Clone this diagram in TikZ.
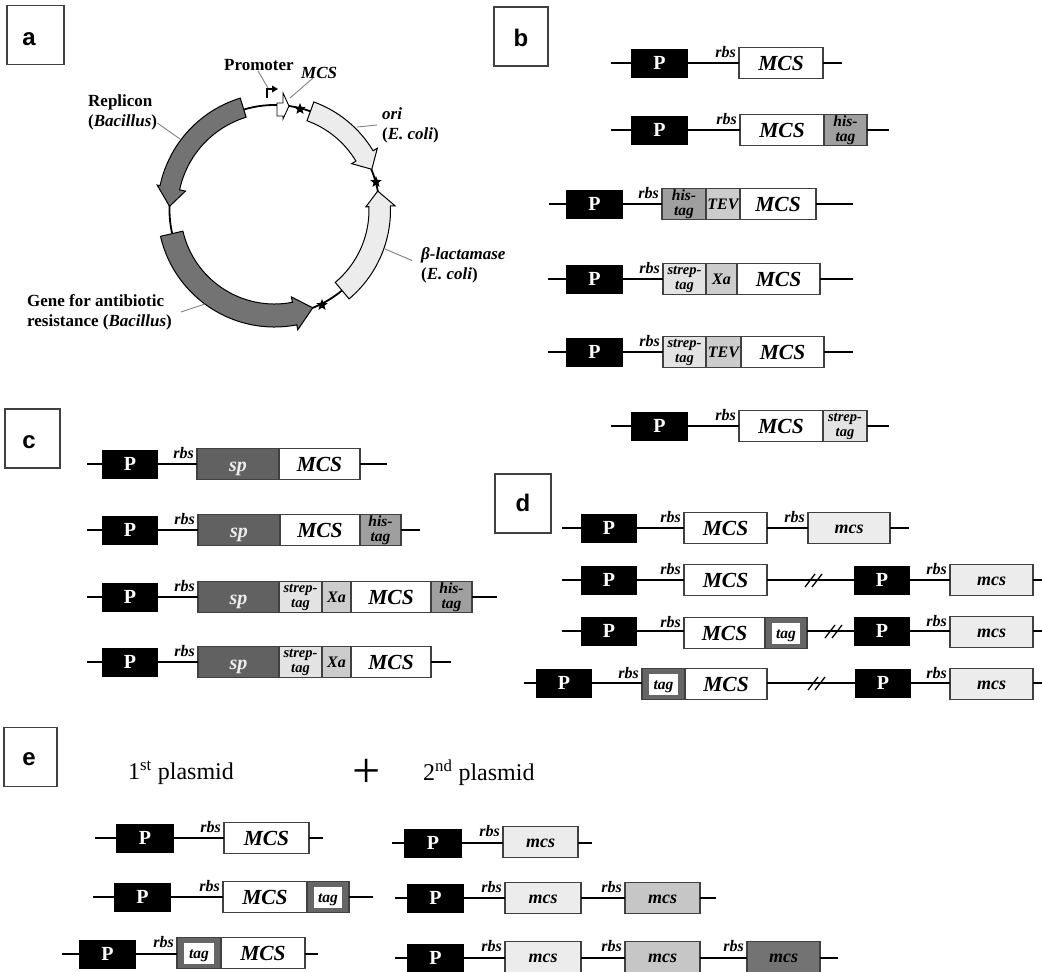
\documentclass[tikz,border=0pt]{standalone}
\usepackage{fontspec}
\setmainfont{Liberation Serif}
\setsansfont{Liberation Sans}
\usetikzlibrary{shapes.geometric}
\definecolor{boxline}{gray}{0.25}
\tikzset{
    panel/.style={draw=boxline, line width=1.2pt, minimum width=#1, minimum height=59, inner sep=0, text depth=0pt, font=\sffamily\bfseries\fontsize{24}{24}\selectfont},
    promoter/.style={fill=black, text=white, anchor=west, minimum width=57, minimum height=29, inner sep=0, outer sep=0, font=\bfseries\fontsize{20}{20}\selectfont},
    genebox/.style={draw=boxline, line width=1.3pt, anchor=west, minimum height=31, inner sep=0, outer sep=0, align=center},
    mcsbox/.style={genebox, fill=white, minimum width=#1, font=\bfseries\itshape\fontsize{21.5}{21.5}\selectfont},
    lowbox/.style={genebox, fill=gray!15, minimum width=#1, text height=11pt, text depth=0pt, font=\bfseries\itshape\fontsize{18}{18}\selectfont},
    midbox/.style={lowbox=#1, fill=gray!45},
    highbox/.style={lowbox=#1, fill=black!55},
    spbox/.style={genebox, fill=black!62, text=gray!15, minimum width=#1, text height=14pt, text depth=0pt, font=\itshape\bfseries\fontsize{20}{20}\selectfont},
    hisbox/.style={genebox, fill=gray!75, minimum width=#1, font=\itshape\bfseries\fontsize{15.5}{15}\selectfont},
    strepbox/.style={genebox, fill=gray!22, minimum width=#1, font=\itshape\bfseries\fontsize{14.5}{15}\selectfont},
    linkbox/.style={genebox, fill=gray!40, minimum width=#1, font=\itshape\bfseries\fontsize{16}{16}\selectfont},
    tagbox/.style={genebox, fill=black!60, minimum width=#1, text height=10pt, text depth=0pt, font=\itshape\bfseries\fontsize{15.5}{15.5}\selectfont,
        path picture={\fill[white] ([shift={(7pt,-5pt)}]path picture bounding box.north west) rectangle ([shift={(-7pt,5pt)}]path picture bounding box.south east);}},
    rbs/.style={anchor=east, xshift=-3pt, yshift=10.5pt, inner sep=0, font=\itshape\bfseries\fontsize{16}{16}\selectfont},
    backbone/.style={line width=2pt},
    leader/.style={draw=gray, line width=0.9pt},
    lab/.style={inner sep=0, align=left, font=\bfseries\fontsize{17}{20}\selectfont},
    gene/.style={fill=black!55, draw=black, line width=1pt},
    lightgene/.style={fill=gray!15, draw=black, line width=1pt},
    site/.style={star, star points=5, star point ratio=2.3, fill=black, minimum size=12, inner sep=0},
    cut/.pic={
        \draw[line width=1.3pt] (-8,7) -- (2,-6);
        \draw[line width=1.3pt] (-1,7) -- (9,-6);
    }
}
\begin{document}
\begin{tikzpicture}[x=1pt, y=-1pt]
        \useasboundingbox (0,0) rectangle (1042,972);
        % Panel letters
        \node[panel=57, text height=21pt] (a) at (35.5,35) {a\kern13pt};
        \node[panel=54, text height=20pt] (b) at (521,36.5) {b};
        \node[panel=55, text height=20pt] (c) at (32.5,438.5) {c\kern7pt};
        \node[panel=56, text height=16pt] (d) at (523,503.5) {d};
        \node[panel=53, text height=17pt] (e) at (30.5,757) {e\kern3pt};

        % Plasmid
        \begin{scope}[shift={(274.5,210)}, y=1pt]
            \coordinate (o) at (0,0);
            \draw[line width=1.8pt] (o) circle (105pt);
            \draw[gene] (107:117) arc[start angle=107, end angle=168, radius=117pt] -- (168:120) -- (178:105) -- (168:91) -- (168:97) arc[start angle=168, end angle=107, radius=97pt] -- cycle;
            \draw[gene] (193:117) arc[start angle=193, end angle=281, radius=117pt] -- (281:122) -- (291.4:105) -- (281:88.6) -- (281:94) arc[start angle=281, end angle=193, radius=94pt] -- cycle;
            \draw[lightgene] (70:115) arc[start angle=70, end angle=31, radius=115pt] -- (31:120) -- (22.7:105.5) -- (31:90) -- (31:95) arc[start angle=31, end angle=70, radius=95pt] -- cycle;
            \draw[lightgene] (-50:116) arc[start angle=-50, end angle=2, radius=116pt] -- (2:120.6) -- (10.4:105) -- (2:91.5) -- (2:94.5) arc[start angle=2, end angle=-50, radius=94.5pt] -- cycle;
        \end{scope}
        \draw[fill=white, line width=0.9pt] (277,103) -- (283,103) -- (283,93) -- (289,106) -- (283,119) -- (283,116) -- (277,116) -- cycle;
        \draw[line width=1.2pt] (267,98) -- (267,89) -- (272,89);
        \fill (272,85.5) -- (278,89) -- (272,92.5) -- cycle;
        \node[site] (s1) at (300,109) {};
        \node[site] (s2) at (376,182) {};
        \node[site] (s3) at (322,305) {};
        \node[lab, anchor=west] (lrep) at (88,112) {Replicon\\(\textit{Bacillus})};
        \node[lab, anchor=west] (lpro) at (224,65) {Promoter};
        \node[lab, anchor=west] (lmcs) at (301,73) {\textit{MCS}};
        \node[lab, anchor=west] (lori) at (382,125) {\textit{ori}\\(\textit{E. coli})};
        \node[lab, anchor=west] (lbet) at (421,265.5) {\textit{β-lactamase}\\(\textit{E. coli})};
        \node[lab, anchor=west] (lgen) at (27,312) {Gene for antibiotic\\resistance (\textit{Bacillus})};
        \coordinate (crep) at (180,139);
        \coordinate (cpro) at (268,88);
        \coordinate (cmcs) at (290,98);
        \coordinate (cori) at (357,127);
        \coordinate (cbet) at (385,249);
        \coordinate (cgen) at (205,304);
        \draw[leader] ([yshift=-11pt]lrep.east) -- (crep);
        \draw[leader] ([xshift=-1pt]lpro.south) -- (cpro);
        \draw[leader] ([xshift=-6pt,yshift=1pt]lmcs.south) -- (cmcs);
        \draw[leader] ([xshift=-5pt]lori.west) -- (cori);
        \draw[leader] ([xshift=-9pt,yshift=5pt]lbet.west) -- (cbet);
        \draw[leader] ([xshift=9pt]lgen.east) -- (cgen);

        % Constructs b
        \coordinate (b1s) at (611,63);
        \coordinate (b1e) at (842,63);
        \node[promoter] (b1p) at (631,63) {P};
        \node[mcsbox=84] (b1m) at (739,63) {MCS};
        \node[rbs] (b1r) at (b1m.west) {rbs};
        \draw[backbone] (b1s) -- (b1p) -- (b1m) (b1m) -- (b1e);

        \coordinate (b2s) at (611,130);
        \coordinate (b2e) at (889,130);
        \node[promoter] (b2p) at (631,130) {P};
        \node[mcsbox=84] (b2m) at (740,130) {MCS};
        \node[hisbox=43] (b2h) at (824,130) {his-\\tag};
        \node[rbs] (b2r) at (b2m.west) {rbs};
        \draw[backbone] (b2s) -- (b2p) -- (b2m) (b2h) -- (b2e);

        \coordinate (b3s) at (549,204);
        \coordinate (b3e) at (853,204);
        \node[promoter] (b3p) at (566,204) {P};
        \node[hisbox=44] (b3h) at (662,204) {his-\\tag};
        \node[linkbox=34] (b3l) at (706,204) {TEV};
        \node[mcsbox=76] (b3m) at (740,204) {MCS};
        \node[rbs] (b3r) at (b3h.west) {rbs};
        \draw[backbone] (b3s) -- (b3p) -- (b3h) (b3m) -- (b3e);

        \coordinate (b4s) at (548,279);
        \coordinate (b4e) at (853,279);
        \node[promoter] (b4p) at (566,279) {P};
        \node[strepbox=43] (b4h) at (663,279) {strep-\\tag};
        \node[linkbox=31] (b4l) at (706,279) {Xa};
        \node[mcsbox=83] (b4m) at (737,279) {MCS};
        \node[rbs] (b4r) at (b4h.west) {rbs};
        \draw[backbone] (b4s) -- (b4p) -- (b4h) (b4m) -- (b4e);

        \coordinate (b5s) at (548,352);
        \coordinate (b5e) at (853,352);
        \node[promoter] (b5p) at (566,352) {P};
        \node[strepbox=43] (b5h) at (663,352) {strep-\\tag};
        \node[linkbox=35] (b5l) at (706,352) {TEV};
        \node[mcsbox=83] (b5m) at (741,352) {MCS};
        \node[rbs] (b5r) at (b5h.west) {rbs};
        \draw[backbone] (b5s) -- (b5p) -- (b5h) (b5m) -- (b5e);

        \coordinate (b6s) at (611,426);
        \coordinate (b6e) at (889,426);
        \node[promoter] (b6p) at (631,426) {P};
        \node[mcsbox=84] (b6m) at (739,426) {MCS};
        \node[strepbox=44] (b6h) at (823,426) {strep-\\tag};
        \node[rbs] (b6r) at (b6m.west) {rbs};
        \draw[backbone] (b6s) -- (b6p) -- (b6m) (b6h) -- (b6e);

        % Constructs c
        \coordinate (c1s) at (87,464);
        \coordinate (c1e) at (387,464);
        \node[promoter, minimum width=56] (c1p) at (102,464) {P};
        \node[spbox=82] (c1a) at (197,464) {sp};
        \node[mcsbox=81] (c1m) at (279,464) {MCS};
        \node[rbs] (c1r) at (c1a.west) {rbs};
        \draw[backbone] (c1s) -- (c1p) -- (c1a) (c1m) -- (c1e);

        \coordinate (c2s) at (87,530);
        \coordinate (c2e) at (420,530);
        \node[promoter, minimum width=56] (c2p) at (102,530) {P};
        \node[spbox=82] (c2a) at (198,530) {sp};
        \node[mcsbox=80] (c2m) at (280,530) {MCS};
        \node[hisbox=41] (c2h) at (360,530) {his-\\tag};
        \node[rbs] (c2r) at (c2a.west) {rbs};
        \draw[backbone] (c2s) -- (c2p) -- (c2a) (c2h) -- (c2e);

        \coordinate (c3s) at (87,597);
        \coordinate (c3e) at (497,597);
        \node[promoter, minimum width=56] (c3p) at (102,597) {P};
        \node[spbox=81] (c3a) at (198,597) {sp};
        \node[strepbox=43] (c3t) at (279,597) {strep-\\tag};
        \node[linkbox=29] (c3l) at (322,597) {Xa};
        \node[mcsbox=80] (c3m) at (351,597) {MCS};
        \node[hisbox=41] (c3h) at (431,597) {his-\\tag};
        \node[rbs] (c3r) at (c3a.west) {rbs};
        \draw[backbone] (c3s) -- (c3p) -- (c3a) (c3h) -- (c3e);

        \coordinate (c4s) at (87,662);
        \coordinate (c4e) at (451,662);
        \node[promoter, minimum width=56] (c4p) at (102,662) {P};
        \node[spbox=81] (c4a) at (198,662) {sp};
        \node[strepbox=43] (c4t) at (279,662) {strep-\\tag};
        \node[linkbox=29] (c4l) at (322,662) {Xa};
        \node[mcsbox=80] (c4m) at (351,662) {MCS};
        \node[rbs] (c4r) at (c4a.west) {rbs};
        \draw[backbone] (c4s) -- (c4p) -- (c4a) (c4m) -- (c4e);

        % Constructs d
        \coordinate (d1s) at (562,528);
        \coordinate (d1e) at (909,528);
        \node[promoter, minimum width=56] (d1p) at (581,528) {P};
        \node[mcsbox=83] (d1m) at (684,528) {MCS};
        \node[lowbox=82] (d1n) at (808,528) {mcs};
        \node[rbs] (d1r) at (d1m.west) {rbs};
        \node[rbs] (d1q) at (d1n.west) {rbs};
        \draw[backbone] (d1s) -- (d1p) -- (d1m) -- (d1n) -- (d1e);

        \coordinate (d2s) at (562,580);
        \coordinate (d2e) at (1042,580);
        \node[promoter, minimum width=56] (d2p) at (581,580) {P};
        \node[mcsbox=83] (d2m) at (684,580) {MCS};
        \node[promoter, minimum width=56] (d2o) at (854,580) {P};
        \node[lowbox=83] (d2n) at (950,580) {mcs};
        \node[rbs] (d2r) at (d2m.west) {rbs};
        \node[rbs] (d2q) at (d2n.west) {rbs};
        \draw[backbone] (d2s) -- (d2p) -- (d2m) -- (d2o) -- (d2n) -- (d2e);
        \pic at (813,580) {cut};

        \coordinate (d3s) at (562,631);
        \coordinate (d3e) at (1042,631);
        \node[promoter, minimum width=56] (d3p) at (581,631) {P};
        \node[mcsbox=81] (d3m) at (684,633) {MCS};
        \node[tagbox=42] (d3t) at (765,633) {tag};
        \node[promoter, minimum width=56] (d3o) at (854,631) {P};
        \node[lowbox=83] (d3n) at (950,632) {mcs};
        \node[rbs] (d3r) at (d3m.west) {rbs};
        \node[rbs] (d3q) at (d3n.west) {rbs};
        \draw[backbone] (d3s) -- (d3p) -- (d3m.west |- d3p) (d3t.east |- d3p) -- (d3o) -- (d3n.west |- d3p) (d3n.east |- d3p) -- (d3e);
        \pic at (833,631) {cut};

        \coordinate (d4s) at (524,683);
        \coordinate (d4e) at (1042,683);
        \node[promoter, minimum width=56] (d4p) at (536,683) {P};
        \node[tagbox=43] (d4t) at (642,684) {tag};
        \node[mcsbox=82] (d4m) at (685,684) {MCS};
        \node[promoter, minimum width=56] (d4o) at (855,683) {P};
        \node[lowbox=83] (d4n) at (950,684) {mcs};
        \node[rbs] (d4r) at (d4t.west) {rbs};
        \node[rbs] (d4q) at (d4n.west) {rbs};
        \draw[backbone] (d4s) -- (d4p) -- (d4t.west |- d4p) (d4m.east |- d4p) -- (d4o) -- (d4n.west |- d4p) (d4n.east |- d4p) -- (d4e);
        \pic at (816,683) {cut};

        % Constructs e
        \node[inner sep=0, anchor=west, font=\fontsize{24}{24}\selectfont] (e1l) at (128,773) {1\textsuperscript{st} plasmid};
        \node[inner sep=0, font=\fontsize{50}{50}\selectfont] (e0l) at (367,773) {+};
        \node[inner sep=0, anchor=west, font=\fontsize{24}{24}\selectfont] (e2l) at (423,773) {2\textsuperscript{nd} plasmid};

        \coordinate (e1s) at (95,838);
        \coordinate (e1e) at (323,838);
        \node[promoter, minimum width=58] (e1p) at (116,838) {P};
        \node[mcsbox=85] (e1m) at (224,838) {MCS};
        \node[rbs] (e1r) at (e1m.west) {rbs};
        \draw[backbone] (e1s) -- (e1p) -- (e1m) (e1m) -- (e1e);

        \coordinate (e2s) at (93,897);
        \coordinate (e2e) at (373,897);
        \node[promoter] (e2p) at (114,897) {P};
        \node[mcsbox=84] (e2m) at (223,897) {MCS};
        \node[tagbox=42] (e2t) at (307,897) {tag};
        \node[rbs] (e2r) at (e2m.west) {rbs};
        \draw[backbone] (e2s) -- (e2p) -- (e2m) (e2t) -- (e2e);

        \coordinate (e3s) at (62,954);
        \coordinate (e3e) at (318,954);
        \node[promoter] (e3p) at (79,954) {P};
        \node[tagbox=44] (e3t) at (177,953) {tag};
        \node[mcsbox=84] (e3m) at (221,953) {MCS};
        \node[rbs] (e3r) at (e3t.west) {rbs};
        \draw[backbone] (e3s) -- (e3p) -- (e3t.west |- e3p) (e3m.east |- e3p) -- (e3e);

        \coordinate (e4s) at (392,843);
        \coordinate (e4e) at (592,843);
        \node[promoter, minimum width=58] (e4p) at (404,843) {P};
        \node[lowbox=75] (e4n) at (503,842) {mcs};
        \node[rbs] (e4r) at (e4n.west) {rbs};
        \draw[backbone] (e4s) -- (e4p) -- (e4n.west |- e4p) (e4n.east |- e4p) -- (e4e);

        \coordinate (e5s) at (395,898);
        \coordinate (e5e) at (716,898);
        \node[promoter] (e5p) at (407,898) {P};
        \node[lowbox=76] (e5n) at (505,898) {mcs};
        \node[midbox=75] (e5o) at (625,898) {mcs};
        \node[rbs] (e5r) at (e5n.west) {rbs};
        \node[rbs] (e5q) at (e5o.west) {rbs};
        \draw[backbone] (e5s) -- (e5p) -- (e5n) -- (e5o) -- (e5e);

        \coordinate (e6s) at (395,958);
        \coordinate (e6e) at (838,958);
        \node[promoter] (e6p) at (407,958) {P};
        \node[lowbox=76] (e6n) at (505,957) {mcs};
        \node[midbox=75] (e6o) at (625,957) {mcs};
        \node[highbox=73] (e6u) at (747,957) {mcs};
        \node[rbs] (e6r) at (e6n.west) {rbs};
        \node[rbs] (e6q) at (e6o.west) {rbs};
        \node[rbs] (e6v) at (e6u.west) {rbs};
        \draw[backbone] (e6s) -- (e6p) -- (e6n.west |- e6p) (e6n.east |- e6p) -- (e6o.west |- e6p) (e6o.east |- e6p) -- (e6u.west |- e6p) (e6u.east |- e6p) -- (e6e);
\end{tikzpicture}
\end{document}
